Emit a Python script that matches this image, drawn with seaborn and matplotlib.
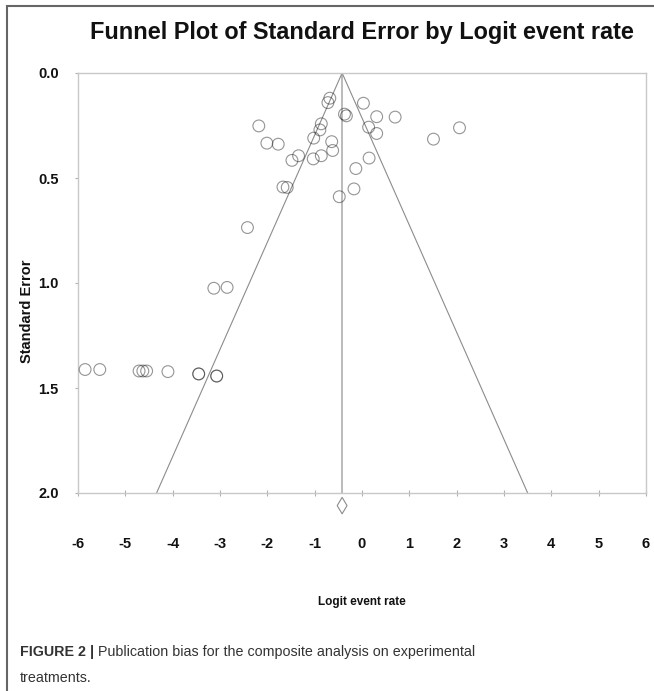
import matplotlib
matplotlib.use("Agg")
import matplotlib.pyplot as plt
import seaborn as sns
import numpy as np
import pandas as pd
from matplotlib.patches import Rectangle

# ---- data ----
logit_event_rate = [-0.68, -0.72, -0.37, -0.33, -2.18, -0.86, -0.89, -2.01, -1.77,
                    -1.02, -0.64, -0.62, -1.34, -1.48, -1.03, -0.86, -0.13, -0.17,
                    -1.67, -1.58, -0.48, -2.42, -3.13, -2.85, 0.03, 0.31, 0.70,
                    2.06, 1.51, 0.14, 0.31, 0.15, -5.85, -5.54, -4.71, -4.63,
                    -4.55, -4.10, -3.45, -3.45, -3.07, -3.07]
standard_error = [0.120, 0.141, 0.196, 0.204, 0.252, 0.242, 0.271, 0.334, 0.339,
                  0.310, 0.327, 0.369, 0.394, 0.416, 0.409, 0.394, 0.455, 0.552,
                  0.543, 0.545, 0.589, 0.736, 1.025, 1.021, 0.144, 0.208, 0.210,
                  0.261, 0.315, 0.258, 0.288, 0.405, 1.412, 1.412, 1.419, 1.419,
                  1.419, 1.422, 1.433, 1.433, 1.443, 1.443]
summary_estimate = -0.42
summary_marker_se = 2.06
x_ticks = [-6, -5, -4, -3, -2, -1, 0, 1, 2, 3, 4, 5, 6]
y_ticks = [0.0, 0.5, 1.0, 1.5, 2.0]
y_tick_labels = ["0.0", "0.5", "1.0", "1.5", "2.0"]
title = "Funnel Plot of Standard Error by Logit event rate"
x_label = "Logit event rate"
y_label = "Standard Error"
caption_bold = "FIGURE 2 |"
caption_rest = " Publication bias for the composite analysis on experimental"
caption_line2 = "treatments."

df = pd.DataFrame({"Logit event rate": logit_event_rate,
                   "Standard Error": standard_error})

sns.set_theme(style="white")
plt.rcParams["font.family"] = ["Liberation Sans", "DejaVu Sans"]

cap_size = 10.25

W, H = 654, 691
fig = plt.figure(figsize=(W / 100, H / 100), dpi=100)
ax = fig.add_axes([78 / W, 1 - 493 / H, (646 - 78) / W, (493 - 73) / H])

# funnel (95% pseudo confidence limits)
se_line = np.array([0.0, 2.0])
ax.plot(summary_estimate - 1.96 * se_line, se_line, color="#8c8c8c", lw=0.8, zorder=2)
ax.plot(summary_estimate + 1.96 * se_line, se_line, color="#8c8c8c", lw=0.8, zorder=2)
ax.plot([summary_estimate, summary_estimate], [0, 2.0], color="#b5b5b5", lw=1.3, zorder=1)

sns.scatterplot(data=df, x="Logit event rate", y="Standard Error", ax=ax,
                marker="o", s=72, facecolor="none", edgecolor=(0.08, 0.08, 0.08, 0.45),
                linewidth=0.8, zorder=3, legend=False)

ax.scatter([summary_estimate], [summary_marker_se], marker="d", s=70,
           facecolor="none", edgecolor="#8c8c8c", linewidth=0.8, clip_on=False, zorder=4)

ax.set_xlim(-6, 6)
ax.set_ylim(2.0, 0.0)
ax.set_xticks(x_ticks)
ax.set_xticklabels([str(t) for t in x_ticks])
ax.set_yticks(y_ticks)
ax.set_yticklabels(y_tick_labels)
ax.set_xlabel("")
ax.set_ylabel("")

for s in ax.spines.values():
    s.set_color("#c8c8c8")
    s.set_linewidth(1.0)

ax.tick_params(axis="x", bottom=True, direction="inout", length=4, width=0.8,
               color="#b0b0b0", pad=30, labelsize=10.5)
ax.tick_params(axis="y", left=True, direction="out", length=2, width=0.8,
               color="#b0b0b0", pad=12, labelsize=10.5)
for lab in ax.get_xticklabels() + ax.get_yticklabels():
    lab.set_fontweight("bold")
    lab.set_color("#111111")

# title and axis labels
fig.text(362 / W, 1 - 33 / H, title, ha="center", va="center",
         fontsize=16.9, fontweight="bold", color="#111111")
fig.text(362 / W, 1 - 602 / H, x_label, ha="center", va="center",
         fontsize=8.5, fontweight="bold", color="#111111")
fig.text(27 / W, 1 - 311 / H, y_label, ha="center", va="center", rotation=90,
         fontsize=10.5, fontweight="bold", color="#111111")

# caption
t1 = fig.text(20 / W, 1 - 652 / H, caption_bold, ha="left", va="center",
              fontsize=cap_size, fontweight="bold", color="#333333")
fig.canvas.draw()
bb = t1.get_window_extent()
fig.text(bb.x1 / W, 1 - 652 / H, caption_rest, ha="left", va="center",
         fontsize=cap_size, color="#333333")
fig.text(20 / W, 1 - 678 / H, caption_line2, ha="left", va="center",
         fontsize=cap_size, color="#333333")

# figure frame
fig.patches.append(Rectangle((7 / W, -0.05), 1.1, 1 - 6 / H + 0.05,
                             transform=fig.transFigure, fill=False,
                             edgecolor="#666666", linewidth=1.5, clip_on=False))

fig.savefig("out.png", dpi=100)
